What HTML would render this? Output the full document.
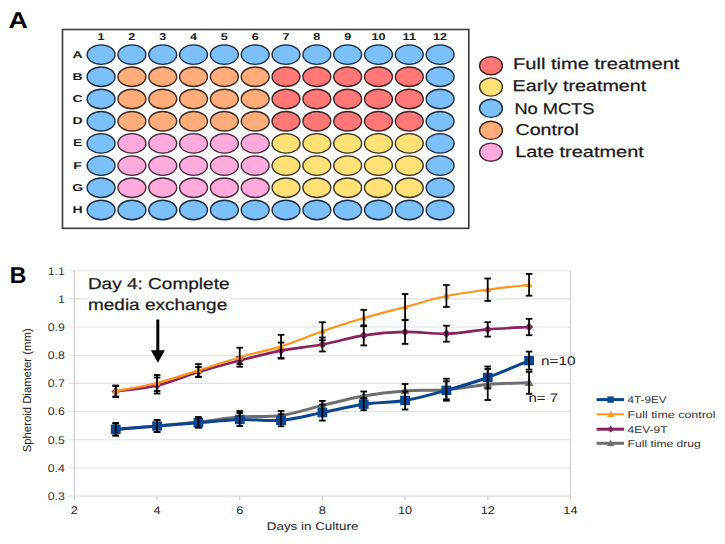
<!DOCTYPE html>
<html><head><meta charset="utf-8"><title>Figure</title>
<style>
html,body{margin:0;padding:0;background:#fff;}
body{width:725px;height:544px;overflow:hidden;font-family:"Liberation Sans", sans-serif;}
svg{display:block;}
text{text-rendering:geometricPrecision;}
</style></head>
<body>
<svg width="725" height="544" viewBox="0 0 725 544">
<rect x="0" y="0" width="725" height="544" fill="#fff"/>
<text x="8.6" y="27.9" font-family='"Liberation Sans", sans-serif' font-weight="bold" font-size="23" textLength="19.4" lengthAdjust="spacingAndGlyphs" fill="#000">A</text>
<rect x="62.5" y="29.5" width="406.3" height="198.8" fill="#fff" stroke="#3a3a3a" stroke-width="1.6"/>
<text x="101.1" y="40.4" text-anchor="middle" font-family='"Liberation Sans", sans-serif' font-weight="bold" font-size="9.9" fill="#1a1a1a" transform="translate(101.1 0) scale(1.28 1) translate(-101.1 0)">1</text>
<text x="131.9" y="40.4" text-anchor="middle" font-family='"Liberation Sans", sans-serif' font-weight="bold" font-size="9.9" fill="#1a1a1a" transform="translate(131.9 0) scale(1.28 1) translate(-131.9 0)">2</text>
<text x="162.7" y="40.4" text-anchor="middle" font-family='"Liberation Sans", sans-serif' font-weight="bold" font-size="9.9" fill="#1a1a1a" transform="translate(162.7 0) scale(1.28 1) translate(-162.7 0)">3</text>
<text x="193.6" y="40.4" text-anchor="middle" font-family='"Liberation Sans", sans-serif' font-weight="bold" font-size="9.9" fill="#1a1a1a" transform="translate(193.6 0) scale(1.28 1) translate(-193.6 0)">4</text>
<text x="224.4" y="40.4" text-anchor="middle" font-family='"Liberation Sans", sans-serif' font-weight="bold" font-size="9.9" fill="#1a1a1a" transform="translate(224.4 0) scale(1.28 1) translate(-224.4 0)">5</text>
<text x="255.2" y="40.4" text-anchor="middle" font-family='"Liberation Sans", sans-serif' font-weight="bold" font-size="9.9" fill="#1a1a1a" transform="translate(255.2 0) scale(1.28 1) translate(-255.2 0)">6</text>
<text x="286.0" y="40.4" text-anchor="middle" font-family='"Liberation Sans", sans-serif' font-weight="bold" font-size="9.9" fill="#1a1a1a" transform="translate(286.0 0) scale(1.28 1) translate(-286.0 0)">7</text>
<text x="316.8" y="40.4" text-anchor="middle" font-family='"Liberation Sans", sans-serif' font-weight="bold" font-size="9.9" fill="#1a1a1a" transform="translate(316.8 0) scale(1.28 1) translate(-316.8 0)">8</text>
<text x="347.7" y="40.4" text-anchor="middle" font-family='"Liberation Sans", sans-serif' font-weight="bold" font-size="9.9" fill="#1a1a1a" transform="translate(347.7 0) scale(1.28 1) translate(-347.7 0)">9</text>
<text x="378.5" y="40.4" text-anchor="middle" font-family='"Liberation Sans", sans-serif' font-weight="bold" font-size="9.9" fill="#1a1a1a" transform="translate(378.5 0) scale(1.28 1) translate(-378.5 0)">10</text>
<text x="409.3" y="40.4" text-anchor="middle" font-family='"Liberation Sans", sans-serif' font-weight="bold" font-size="9.9" fill="#1a1a1a" transform="translate(409.3 0) scale(1.28 1) translate(-409.3 0)">11</text>
<text x="440.1" y="40.4" text-anchor="middle" font-family='"Liberation Sans", sans-serif' font-weight="bold" font-size="9.9" fill="#1a1a1a" transform="translate(440.1 0) scale(1.28 1) translate(-440.1 0)">12</text>
<text x="77.6" y="57.6" text-anchor="middle" font-family='"Liberation Sans", sans-serif' font-weight="bold" font-size="10" fill="#1a1a1a" transform="translate(77.6 0) scale(1.4 1) translate(-77.6 0)">A</text>
<ellipse cx="101.10" cy="54.60" rx="13.95" ry="9.75" fill="#7cc0fb" stroke="#1c2c3c" stroke-width="1.4"/>
<ellipse cx="131.92" cy="54.60" rx="13.95" ry="9.75" fill="#7cc0fb" stroke="#1c2c3c" stroke-width="1.4"/>
<ellipse cx="162.74" cy="54.60" rx="13.95" ry="9.75" fill="#7cc0fb" stroke="#1c2c3c" stroke-width="1.4"/>
<ellipse cx="193.56" cy="54.60" rx="13.95" ry="9.75" fill="#7cc0fb" stroke="#1c2c3c" stroke-width="1.4"/>
<ellipse cx="224.38" cy="54.60" rx="13.95" ry="9.75" fill="#7cc0fb" stroke="#1c2c3c" stroke-width="1.4"/>
<ellipse cx="255.20" cy="54.60" rx="13.95" ry="9.75" fill="#7cc0fb" stroke="#1c2c3c" stroke-width="1.4"/>
<ellipse cx="286.02" cy="54.60" rx="13.95" ry="9.75" fill="#7cc0fb" stroke="#1c2c3c" stroke-width="1.4"/>
<ellipse cx="316.84" cy="54.60" rx="13.95" ry="9.75" fill="#7cc0fb" stroke="#1c2c3c" stroke-width="1.4"/>
<ellipse cx="347.66" cy="54.60" rx="13.95" ry="9.75" fill="#7cc0fb" stroke="#1c2c3c" stroke-width="1.4"/>
<ellipse cx="378.48" cy="54.60" rx="13.95" ry="9.75" fill="#7cc0fb" stroke="#1c2c3c" stroke-width="1.4"/>
<ellipse cx="409.30" cy="54.60" rx="13.95" ry="9.75" fill="#7cc0fb" stroke="#1c2c3c" stroke-width="1.4"/>
<ellipse cx="440.12" cy="54.60" rx="13.95" ry="9.75" fill="#7cc0fb" stroke="#1c2c3c" stroke-width="1.4"/>
<text x="77.6" y="79.8" text-anchor="middle" font-family='"Liberation Sans", sans-serif' font-weight="bold" font-size="10" fill="#1a1a1a" transform="translate(77.6 0) scale(1.4 1) translate(-77.6 0)">B</text>
<ellipse cx="101.10" cy="76.80" rx="13.95" ry="9.75" fill="#7cc0fb" stroke="#1c2c3c" stroke-width="1.4"/>
<ellipse cx="131.92" cy="76.80" rx="13.95" ry="9.75" fill="#ffac7b" stroke="#3c2a22" stroke-width="1.4"/>
<ellipse cx="162.74" cy="76.80" rx="13.95" ry="9.75" fill="#ffac7b" stroke="#3c2a22" stroke-width="1.4"/>
<ellipse cx="193.56" cy="76.80" rx="13.95" ry="9.75" fill="#ffac7b" stroke="#3c2a22" stroke-width="1.4"/>
<ellipse cx="224.38" cy="76.80" rx="13.95" ry="9.75" fill="#ffac7b" stroke="#3c2a22" stroke-width="1.4"/>
<ellipse cx="255.20" cy="76.80" rx="13.95" ry="9.75" fill="#ffac7b" stroke="#3c2a22" stroke-width="1.4"/>
<ellipse cx="286.02" cy="76.80" rx="13.95" ry="9.75" fill="#ff7777" stroke="#3c2424" stroke-width="1.4"/>
<ellipse cx="316.84" cy="76.80" rx="13.95" ry="9.75" fill="#ff7777" stroke="#3c2424" stroke-width="1.4"/>
<ellipse cx="347.66" cy="76.80" rx="13.95" ry="9.75" fill="#ff7777" stroke="#3c2424" stroke-width="1.4"/>
<ellipse cx="378.48" cy="76.80" rx="13.95" ry="9.75" fill="#ff7777" stroke="#3c2424" stroke-width="1.4"/>
<ellipse cx="409.30" cy="76.80" rx="13.95" ry="9.75" fill="#ff7777" stroke="#3c2424" stroke-width="1.4"/>
<ellipse cx="440.12" cy="76.80" rx="13.95" ry="9.75" fill="#7cc0fb" stroke="#1c2c3c" stroke-width="1.4"/>
<text x="77.6" y="102.0" text-anchor="middle" font-family='"Liberation Sans", sans-serif' font-weight="bold" font-size="10" fill="#1a1a1a" transform="translate(77.6 0) scale(1.4 1) translate(-77.6 0)">C</text>
<ellipse cx="101.10" cy="99.00" rx="13.95" ry="9.75" fill="#7cc0fb" stroke="#1c2c3c" stroke-width="1.4"/>
<ellipse cx="131.92" cy="99.00" rx="13.95" ry="9.75" fill="#ffac7b" stroke="#3c2a22" stroke-width="1.4"/>
<ellipse cx="162.74" cy="99.00" rx="13.95" ry="9.75" fill="#ffac7b" stroke="#3c2a22" stroke-width="1.4"/>
<ellipse cx="193.56" cy="99.00" rx="13.95" ry="9.75" fill="#ffac7b" stroke="#3c2a22" stroke-width="1.4"/>
<ellipse cx="224.38" cy="99.00" rx="13.95" ry="9.75" fill="#ffac7b" stroke="#3c2a22" stroke-width="1.4"/>
<ellipse cx="255.20" cy="99.00" rx="13.95" ry="9.75" fill="#ffac7b" stroke="#3c2a22" stroke-width="1.4"/>
<ellipse cx="286.02" cy="99.00" rx="13.95" ry="9.75" fill="#ff7777" stroke="#3c2424" stroke-width="1.4"/>
<ellipse cx="316.84" cy="99.00" rx="13.95" ry="9.75" fill="#ff7777" stroke="#3c2424" stroke-width="1.4"/>
<ellipse cx="347.66" cy="99.00" rx="13.95" ry="9.75" fill="#ff7777" stroke="#3c2424" stroke-width="1.4"/>
<ellipse cx="378.48" cy="99.00" rx="13.95" ry="9.75" fill="#ff7777" stroke="#3c2424" stroke-width="1.4"/>
<ellipse cx="409.30" cy="99.00" rx="13.95" ry="9.75" fill="#ff7777" stroke="#3c2424" stroke-width="1.4"/>
<ellipse cx="440.12" cy="99.00" rx="13.95" ry="9.75" fill="#7cc0fb" stroke="#1c2c3c" stroke-width="1.4"/>
<text x="77.6" y="124.2" text-anchor="middle" font-family='"Liberation Sans", sans-serif' font-weight="bold" font-size="10" fill="#1a1a1a" transform="translate(77.6 0) scale(1.4 1) translate(-77.6 0)">D</text>
<ellipse cx="101.10" cy="121.20" rx="13.95" ry="9.75" fill="#7cc0fb" stroke="#1c2c3c" stroke-width="1.4"/>
<ellipse cx="131.92" cy="121.20" rx="13.95" ry="9.75" fill="#ffac7b" stroke="#3c2a22" stroke-width="1.4"/>
<ellipse cx="162.74" cy="121.20" rx="13.95" ry="9.75" fill="#ffac7b" stroke="#3c2a22" stroke-width="1.4"/>
<ellipse cx="193.56" cy="121.20" rx="13.95" ry="9.75" fill="#ffac7b" stroke="#3c2a22" stroke-width="1.4"/>
<ellipse cx="224.38" cy="121.20" rx="13.95" ry="9.75" fill="#ffac7b" stroke="#3c2a22" stroke-width="1.4"/>
<ellipse cx="255.20" cy="121.20" rx="13.95" ry="9.75" fill="#ffac7b" stroke="#3c2a22" stroke-width="1.4"/>
<ellipse cx="286.02" cy="121.20" rx="13.95" ry="9.75" fill="#ff7777" stroke="#3c2424" stroke-width="1.4"/>
<ellipse cx="316.84" cy="121.20" rx="13.95" ry="9.75" fill="#ff7777" stroke="#3c2424" stroke-width="1.4"/>
<ellipse cx="347.66" cy="121.20" rx="13.95" ry="9.75" fill="#ff7777" stroke="#3c2424" stroke-width="1.4"/>
<ellipse cx="378.48" cy="121.20" rx="13.95" ry="9.75" fill="#ff7777" stroke="#3c2424" stroke-width="1.4"/>
<ellipse cx="409.30" cy="121.20" rx="13.95" ry="9.75" fill="#ff7777" stroke="#3c2424" stroke-width="1.4"/>
<ellipse cx="440.12" cy="121.20" rx="13.95" ry="9.75" fill="#7cc0fb" stroke="#1c2c3c" stroke-width="1.4"/>
<text x="77.6" y="146.4" text-anchor="middle" font-family='"Liberation Sans", sans-serif' font-weight="bold" font-size="10" fill="#1a1a1a" transform="translate(77.6 0) scale(1.4 1) translate(-77.6 0)">E</text>
<ellipse cx="101.10" cy="143.40" rx="13.95" ry="9.75" fill="#7cc0fb" stroke="#1c2c3c" stroke-width="1.4"/>
<ellipse cx="131.92" cy="143.40" rx="13.95" ry="9.75" fill="#ffaadc" stroke="#44283c" stroke-width="1.4"/>
<ellipse cx="162.74" cy="143.40" rx="13.95" ry="9.75" fill="#ffaadc" stroke="#44283c" stroke-width="1.4"/>
<ellipse cx="193.56" cy="143.40" rx="13.95" ry="9.75" fill="#ffaadc" stroke="#44283c" stroke-width="1.4"/>
<ellipse cx="224.38" cy="143.40" rx="13.95" ry="9.75" fill="#ffaadc" stroke="#44283c" stroke-width="1.4"/>
<ellipse cx="255.20" cy="143.40" rx="13.95" ry="9.75" fill="#ffaadc" stroke="#44283c" stroke-width="1.4"/>
<ellipse cx="286.02" cy="143.40" rx="13.95" ry="9.75" fill="#ffe175" stroke="#3a3422" stroke-width="1.4"/>
<ellipse cx="316.84" cy="143.40" rx="13.95" ry="9.75" fill="#ffe175" stroke="#3a3422" stroke-width="1.4"/>
<ellipse cx="347.66" cy="143.40" rx="13.95" ry="9.75" fill="#ffe175" stroke="#3a3422" stroke-width="1.4"/>
<ellipse cx="378.48" cy="143.40" rx="13.95" ry="9.75" fill="#ffe175" stroke="#3a3422" stroke-width="1.4"/>
<ellipse cx="409.30" cy="143.40" rx="13.95" ry="9.75" fill="#ffe175" stroke="#3a3422" stroke-width="1.4"/>
<ellipse cx="440.12" cy="143.40" rx="13.95" ry="9.75" fill="#7cc0fb" stroke="#1c2c3c" stroke-width="1.4"/>
<text x="77.6" y="168.6" text-anchor="middle" font-family='"Liberation Sans", sans-serif' font-weight="bold" font-size="10" fill="#1a1a1a" transform="translate(77.6 0) scale(1.4 1) translate(-77.6 0)">F</text>
<ellipse cx="101.10" cy="165.60" rx="13.95" ry="9.75" fill="#7cc0fb" stroke="#1c2c3c" stroke-width="1.4"/>
<ellipse cx="131.92" cy="165.60" rx="13.95" ry="9.75" fill="#ffaadc" stroke="#44283c" stroke-width="1.4"/>
<ellipse cx="162.74" cy="165.60" rx="13.95" ry="9.75" fill="#ffaadc" stroke="#44283c" stroke-width="1.4"/>
<ellipse cx="193.56" cy="165.60" rx="13.95" ry="9.75" fill="#ffaadc" stroke="#44283c" stroke-width="1.4"/>
<ellipse cx="224.38" cy="165.60" rx="13.95" ry="9.75" fill="#ffaadc" stroke="#44283c" stroke-width="1.4"/>
<ellipse cx="255.20" cy="165.60" rx="13.95" ry="9.75" fill="#ffaadc" stroke="#44283c" stroke-width="1.4"/>
<ellipse cx="286.02" cy="165.60" rx="13.95" ry="9.75" fill="#ffe175" stroke="#3a3422" stroke-width="1.4"/>
<ellipse cx="316.84" cy="165.60" rx="13.95" ry="9.75" fill="#ffe175" stroke="#3a3422" stroke-width="1.4"/>
<ellipse cx="347.66" cy="165.60" rx="13.95" ry="9.75" fill="#ffe175" stroke="#3a3422" stroke-width="1.4"/>
<ellipse cx="378.48" cy="165.60" rx="13.95" ry="9.75" fill="#ffe175" stroke="#3a3422" stroke-width="1.4"/>
<ellipse cx="409.30" cy="165.60" rx="13.95" ry="9.75" fill="#ffe175" stroke="#3a3422" stroke-width="1.4"/>
<ellipse cx="440.12" cy="165.60" rx="13.95" ry="9.75" fill="#7cc0fb" stroke="#1c2c3c" stroke-width="1.4"/>
<text x="77.6" y="190.8" text-anchor="middle" font-family='"Liberation Sans", sans-serif' font-weight="bold" font-size="10" fill="#1a1a1a" transform="translate(77.6 0) scale(1.4 1) translate(-77.6 0)">G</text>
<ellipse cx="101.10" cy="187.80" rx="13.95" ry="9.75" fill="#7cc0fb" stroke="#1c2c3c" stroke-width="1.4"/>
<ellipse cx="131.92" cy="187.80" rx="13.95" ry="9.75" fill="#ffaadc" stroke="#44283c" stroke-width="1.4"/>
<ellipse cx="162.74" cy="187.80" rx="13.95" ry="9.75" fill="#ffaadc" stroke="#44283c" stroke-width="1.4"/>
<ellipse cx="193.56" cy="187.80" rx="13.95" ry="9.75" fill="#ffaadc" stroke="#44283c" stroke-width="1.4"/>
<ellipse cx="224.38" cy="187.80" rx="13.95" ry="9.75" fill="#ffaadc" stroke="#44283c" stroke-width="1.4"/>
<ellipse cx="255.20" cy="187.80" rx="13.95" ry="9.75" fill="#ffaadc" stroke="#44283c" stroke-width="1.4"/>
<ellipse cx="286.02" cy="187.80" rx="13.95" ry="9.75" fill="#ffe175" stroke="#3a3422" stroke-width="1.4"/>
<ellipse cx="316.84" cy="187.80" rx="13.95" ry="9.75" fill="#ffe175" stroke="#3a3422" stroke-width="1.4"/>
<ellipse cx="347.66" cy="187.80" rx="13.95" ry="9.75" fill="#ffe175" stroke="#3a3422" stroke-width="1.4"/>
<ellipse cx="378.48" cy="187.80" rx="13.95" ry="9.75" fill="#ffe175" stroke="#3a3422" stroke-width="1.4"/>
<ellipse cx="409.30" cy="187.80" rx="13.95" ry="9.75" fill="#ffe175" stroke="#3a3422" stroke-width="1.4"/>
<ellipse cx="440.12" cy="187.80" rx="13.95" ry="9.75" fill="#7cc0fb" stroke="#1c2c3c" stroke-width="1.4"/>
<text x="77.6" y="213.0" text-anchor="middle" font-family='"Liberation Sans", sans-serif' font-weight="bold" font-size="10" fill="#1a1a1a" transform="translate(77.6 0) scale(1.4 1) translate(-77.6 0)">H</text>
<ellipse cx="101.10" cy="210.00" rx="13.95" ry="9.75" fill="#7cc0fb" stroke="#1c2c3c" stroke-width="1.4"/>
<ellipse cx="131.92" cy="210.00" rx="13.95" ry="9.75" fill="#7cc0fb" stroke="#1c2c3c" stroke-width="1.4"/>
<ellipse cx="162.74" cy="210.00" rx="13.95" ry="9.75" fill="#7cc0fb" stroke="#1c2c3c" stroke-width="1.4"/>
<ellipse cx="193.56" cy="210.00" rx="13.95" ry="9.75" fill="#7cc0fb" stroke="#1c2c3c" stroke-width="1.4"/>
<ellipse cx="224.38" cy="210.00" rx="13.95" ry="9.75" fill="#7cc0fb" stroke="#1c2c3c" stroke-width="1.4"/>
<ellipse cx="255.20" cy="210.00" rx="13.95" ry="9.75" fill="#7cc0fb" stroke="#1c2c3c" stroke-width="1.4"/>
<ellipse cx="286.02" cy="210.00" rx="13.95" ry="9.75" fill="#7cc0fb" stroke="#1c2c3c" stroke-width="1.4"/>
<ellipse cx="316.84" cy="210.00" rx="13.95" ry="9.75" fill="#7cc0fb" stroke="#1c2c3c" stroke-width="1.4"/>
<ellipse cx="347.66" cy="210.00" rx="13.95" ry="9.75" fill="#7cc0fb" stroke="#1c2c3c" stroke-width="1.4"/>
<ellipse cx="378.48" cy="210.00" rx="13.95" ry="9.75" fill="#7cc0fb" stroke="#1c2c3c" stroke-width="1.4"/>
<ellipse cx="409.30" cy="210.00" rx="13.95" ry="9.75" fill="#7cc0fb" stroke="#1c2c3c" stroke-width="1.4"/>
<ellipse cx="440.12" cy="210.00" rx="13.95" ry="9.75" fill="#7cc0fb" stroke="#1c2c3c" stroke-width="1.4"/>
<ellipse cx="491.0" cy="65.7" rx="11.4" ry="9.1" fill="#ff7777" stroke="#3c2424" stroke-width="1.4"/>
<text x="513.0" y="68.9" font-family='"Liberation Sans", sans-serif' font-size="15.6" fill="#1a1a1a" stroke="#1a1a1a" stroke-width="0.25" textLength="166.4" lengthAdjust="spacingAndGlyphs">Full time treatment</text>
<ellipse cx="491.0" cy="87.0" rx="11.4" ry="9.1" fill="#ffe175" stroke="#3a3422" stroke-width="1.4"/>
<text x="512.6" y="91.3" font-family='"Liberation Sans", sans-serif' font-size="15.6" fill="#1a1a1a" stroke="#1a1a1a" stroke-width="0.25" textLength="133.6" lengthAdjust="spacingAndGlyphs">Early treatment</text>
<ellipse cx="491.0" cy="108.3" rx="11.4" ry="9.1" fill="#7cc0fb" stroke="#1c2c3c" stroke-width="1.4"/>
<text x="514.4" y="113.7" font-family='"Liberation Sans", sans-serif' font-size="15.6" fill="#1a1a1a" stroke="#1a1a1a" stroke-width="0.25" textLength="80.0" lengthAdjust="spacingAndGlyphs">No MCTS</text>
<ellipse cx="491.0" cy="130.3" rx="11.4" ry="9.1" fill="#ffac7b" stroke="#3c2a22" stroke-width="1.4"/>
<text x="515.5" y="135.3" font-family='"Liberation Sans", sans-serif' font-size="15.6" fill="#1a1a1a" stroke="#1a1a1a" stroke-width="0.25" textLength="63.3" lengthAdjust="spacingAndGlyphs">Control</text>
<ellipse cx="491.0" cy="152.2" rx="11.4" ry="9.1" fill="#ffaadc" stroke="#44283c" stroke-width="1.4"/>
<text x="515.2" y="156.5" font-family='"Liberation Sans", sans-serif' font-size="15.6" fill="#1a1a1a" stroke="#1a1a1a" stroke-width="0.25" textLength="128.6" lengthAdjust="spacingAndGlyphs">Late treatment</text>
<text x="9.8" y="282.9" font-family='"Liberation Sans", sans-serif' font-weight="bold" font-size="23" textLength="16.6" lengthAdjust="spacingAndGlyphs" fill="#000">B</text>
<line x1="68.6" y1="496.10" x2="570.4" y2="496.10" stroke="#e0e0e0" stroke-width="1.1"/>
<text x="64.8" y="500.00" text-anchor="end" font-family='"Liberation Sans", sans-serif' font-size="11" fill="#333" transform="translate(64.8 0) scale(1.12 1) translate(-64.8 0)">0.3</text>
<line x1="68.6" y1="467.93" x2="570.4" y2="467.93" stroke="#e0e0e0" stroke-width="1.1"/>
<text x="64.8" y="471.82" text-anchor="end" font-family='"Liberation Sans", sans-serif' font-size="11" fill="#333" transform="translate(64.8 0) scale(1.12 1) translate(-64.8 0)">0.4</text>
<line x1="68.6" y1="439.75" x2="570.4" y2="439.75" stroke="#e0e0e0" stroke-width="1.1"/>
<text x="64.8" y="443.65" text-anchor="end" font-family='"Liberation Sans", sans-serif' font-size="11" fill="#333" transform="translate(64.8 0) scale(1.12 1) translate(-64.8 0)">0.5</text>
<line x1="68.6" y1="411.57" x2="570.4" y2="411.57" stroke="#e0e0e0" stroke-width="1.1"/>
<text x="64.8" y="415.47" text-anchor="end" font-family='"Liberation Sans", sans-serif' font-size="11" fill="#333" transform="translate(64.8 0) scale(1.12 1) translate(-64.8 0)">0.6</text>
<line x1="68.6" y1="383.40" x2="570.4" y2="383.40" stroke="#e0e0e0" stroke-width="1.1"/>
<text x="64.8" y="387.30" text-anchor="end" font-family='"Liberation Sans", sans-serif' font-size="11" fill="#333" transform="translate(64.8 0) scale(1.12 1) translate(-64.8 0)">0.7</text>
<line x1="68.6" y1="355.23" x2="570.4" y2="355.23" stroke="#e0e0e0" stroke-width="1.1"/>
<text x="64.8" y="359.12" text-anchor="end" font-family='"Liberation Sans", sans-serif' font-size="11" fill="#333" transform="translate(64.8 0) scale(1.12 1) translate(-64.8 0)">0.8</text>
<line x1="68.6" y1="327.05" x2="570.4" y2="327.05" stroke="#e0e0e0" stroke-width="1.1"/>
<text x="64.8" y="330.95" text-anchor="end" font-family='"Liberation Sans", sans-serif' font-size="11" fill="#333" transform="translate(64.8 0) scale(1.12 1) translate(-64.8 0)">0.9</text>
<line x1="68.6" y1="298.88" x2="570.4" y2="298.88" stroke="#e0e0e0" stroke-width="1.1"/>
<text x="64.8" y="302.77" text-anchor="end" font-family='"Liberation Sans", sans-serif' font-size="11" fill="#333" transform="translate(64.8 0) scale(1.12 1) translate(-64.8 0)">1</text>
<line x1="68.6" y1="270.70" x2="570.4" y2="270.70" stroke="#e0e0e0" stroke-width="1.1"/>
<text x="64.8" y="274.60" text-anchor="end" font-family='"Liberation Sans", sans-serif' font-size="11" fill="#333" transform="translate(64.8 0) scale(1.12 1) translate(-64.8 0)">1.1</text>
<line x1="74.4" y1="270.7" x2="74.4" y2="500.1" stroke="#cfcfcf" stroke-width="1.2"/>
<line x1="570.4" y1="270.7" x2="570.4" y2="500.1" stroke="#d8d8d8" stroke-width="1.2"/>
<line x1="74.40" y1="496.1" x2="74.40" y2="500.1" stroke="#cfcfcf" stroke-width="1.2"/>
<text x="74.40" y="514.1" text-anchor="middle" font-family='"Liberation Sans", sans-serif' font-size="11" fill="#222" transform="translate(74.40 0) scale(1.15 1) translate(-74.40 0)">2</text>
<line x1="157.07" y1="496.1" x2="157.07" y2="500.1" stroke="#cfcfcf" stroke-width="1.2"/>
<text x="157.07" y="514.1" text-anchor="middle" font-family='"Liberation Sans", sans-serif' font-size="11" fill="#222" transform="translate(157.07 0) scale(1.15 1) translate(-157.07 0)">4</text>
<line x1="239.73" y1="496.1" x2="239.73" y2="500.1" stroke="#cfcfcf" stroke-width="1.2"/>
<text x="239.73" y="514.1" text-anchor="middle" font-family='"Liberation Sans", sans-serif' font-size="11" fill="#222" transform="translate(239.73 0) scale(1.15 1) translate(-239.73 0)">6</text>
<line x1="322.40" y1="496.1" x2="322.40" y2="500.1" stroke="#cfcfcf" stroke-width="1.2"/>
<text x="322.40" y="514.1" text-anchor="middle" font-family='"Liberation Sans", sans-serif' font-size="11" fill="#222" transform="translate(322.40 0) scale(1.15 1) translate(-322.40 0)">8</text>
<line x1="405.07" y1="496.1" x2="405.07" y2="500.1" stroke="#cfcfcf" stroke-width="1.2"/>
<text x="405.07" y="514.1" text-anchor="middle" font-family='"Liberation Sans", sans-serif' font-size="11" fill="#222" transform="translate(405.07 0) scale(1.15 1) translate(-405.07 0)">10</text>
<line x1="487.73" y1="496.1" x2="487.73" y2="500.1" stroke="#cfcfcf" stroke-width="1.2"/>
<text x="487.73" y="514.1" text-anchor="middle" font-family='"Liberation Sans", sans-serif' font-size="11" fill="#222" transform="translate(487.73 0) scale(1.15 1) translate(-487.73 0)">12</text>
<line x1="570.40" y1="496.1" x2="570.40" y2="500.1" stroke="#cfcfcf" stroke-width="1.2"/>
<text x="570.40" y="514.1" text-anchor="middle" font-family='"Liberation Sans", sans-serif' font-size="11" fill="#222" transform="translate(570.40 0) scale(1.15 1) translate(-570.40 0)">14</text>
<text x="266.8" y="529.6" font-family='"Liberation Sans", sans-serif' font-size="11.2" fill="#222" textLength="91.6" lengthAdjust="spacingAndGlyphs">Days in Culture</text>
<text transform="translate(30.9 452.3) rotate(-90)" x="0" y="0" font-family='"Liberation Sans", sans-serif' font-size="11.6" fill="#222" textLength="124" lengthAdjust="spacingAndGlyphs">Spheroid Diameter (mm)</text>
<rect x="88" y="274" width="143" height="40" fill="#fff"/>
<text x="87.9" y="288.7" font-family='"Liberation Sans", sans-serif' font-size="15.8" fill="#1a1a1a" stroke="#1a1a1a" stroke-width="0.25" textLength="141.6" lengthAdjust="spacingAndGlyphs">Day 4: Complete</text>
<text x="88.0" y="309.7" font-family='"Liberation Sans", sans-serif' font-size="15.8" fill="#1a1a1a" stroke="#1a1a1a" stroke-width="0.25" textLength="139.2" lengthAdjust="spacingAndGlyphs">media exchange</text>
<line x1="157.8" y1="319.5" x2="157.8" y2="352" stroke="#000" stroke-width="3"/>
<polygon points="150.9,350.2 164.9,350.2 157.9,362.8" fill="#000"/>
<path d="M115.73,429.50 C122.62,428.92 143.29,427.25 157.07,426.00 C170.84,424.75 184.62,423.50 198.40,422.00 C212.18,420.50 225.96,418.08 239.73,417.00 C253.51,415.92 267.29,417.43 281.07,415.50 C294.84,413.57 308.62,408.65 322.40,405.40 C336.18,402.15 349.96,398.40 363.73,396.00 C377.51,393.60 391.29,392.05 405.07,391.00 C418.84,389.95 432.62,390.78 446.40,389.70 C460.18,388.62 473.96,385.65 487.73,384.50 C501.51,383.35 522.18,383.08 529.07,382.80" fill="none" stroke="#6e6e6e" stroke-width="3" stroke-linejoin="round"/>
<polygon points="111.23,432.80 120.23,432.80 115.73,425.00" fill="#6e6e6e"/>
<polygon points="152.57,429.30 161.57,429.30 157.07,421.50" fill="#6e6e6e"/>
<polygon points="193.90,425.30 202.90,425.30 198.40,417.50" fill="#6e6e6e"/>
<polygon points="235.23,420.30 244.23,420.30 239.73,412.50" fill="#6e6e6e"/>
<polygon points="276.57,418.80 285.57,418.80 281.07,411.00" fill="#6e6e6e"/>
<polygon points="317.90,408.70 326.90,408.70 322.40,400.90" fill="#6e6e6e"/>
<polygon points="359.23,399.30 368.23,399.30 363.73,391.50" fill="#6e6e6e"/>
<polygon points="400.57,394.30 409.57,394.30 405.07,386.50" fill="#6e6e6e"/>
<polygon points="441.90,393.00 450.90,393.00 446.40,385.20" fill="#6e6e6e"/>
<polygon points="483.23,387.80 492.23,387.80 487.73,380.00" fill="#6e6e6e"/>
<polygon points="524.57,386.10 533.57,386.10 529.07,378.30" fill="#6e6e6e"/>
<line x1="115.73" y1="423.50" x2="115.73" y2="435.50" stroke="#000" stroke-width="1.8"/>
<line x1="112.43" y1="423.50" x2="119.03" y2="423.50" stroke="#000" stroke-width="1.8"/>
<line x1="112.43" y1="435.50" x2="119.03" y2="435.50" stroke="#000" stroke-width="1.8"/>
<line x1="157.07" y1="420.00" x2="157.07" y2="432.00" stroke="#000" stroke-width="1.8"/>
<line x1="153.77" y1="420.00" x2="160.37" y2="420.00" stroke="#000" stroke-width="1.8"/>
<line x1="153.77" y1="432.00" x2="160.37" y2="432.00" stroke="#000" stroke-width="1.8"/>
<line x1="198.40" y1="417.00" x2="198.40" y2="427.00" stroke="#000" stroke-width="1.8"/>
<line x1="195.10" y1="417.00" x2="201.70" y2="417.00" stroke="#000" stroke-width="1.8"/>
<line x1="195.10" y1="427.00" x2="201.70" y2="427.00" stroke="#000" stroke-width="1.8"/>
<line x1="239.73" y1="411.00" x2="239.73" y2="423.00" stroke="#000" stroke-width="1.8"/>
<line x1="236.43" y1="411.00" x2="243.03" y2="411.00" stroke="#000" stroke-width="1.8"/>
<line x1="236.43" y1="423.00" x2="243.03" y2="423.00" stroke="#000" stroke-width="1.8"/>
<line x1="281.07" y1="411.00" x2="281.07" y2="420.00" stroke="#000" stroke-width="1.8"/>
<line x1="277.77" y1="411.00" x2="284.37" y2="411.00" stroke="#000" stroke-width="1.8"/>
<line x1="277.77" y1="420.00" x2="284.37" y2="420.00" stroke="#000" stroke-width="1.8"/>
<line x1="322.40" y1="400.90" x2="322.40" y2="409.90" stroke="#000" stroke-width="1.8"/>
<line x1="319.10" y1="400.90" x2="325.70" y2="400.90" stroke="#000" stroke-width="1.8"/>
<line x1="319.10" y1="409.90" x2="325.70" y2="409.90" stroke="#000" stroke-width="1.8"/>
<line x1="363.73" y1="391.50" x2="363.73" y2="400.50" stroke="#000" stroke-width="1.8"/>
<line x1="360.43" y1="391.50" x2="367.03" y2="391.50" stroke="#000" stroke-width="1.8"/>
<line x1="360.43" y1="400.50" x2="367.03" y2="400.50" stroke="#000" stroke-width="1.8"/>
<line x1="405.07" y1="384.00" x2="405.07" y2="398.00" stroke="#000" stroke-width="1.8"/>
<line x1="401.77" y1="384.00" x2="408.37" y2="384.00" stroke="#000" stroke-width="1.8"/>
<line x1="401.77" y1="398.00" x2="408.37" y2="398.00" stroke="#000" stroke-width="1.8"/>
<line x1="446.40" y1="378.70" x2="446.40" y2="400.70" stroke="#000" stroke-width="1.8"/>
<line x1="443.10" y1="378.70" x2="449.70" y2="378.70" stroke="#000" stroke-width="1.8"/>
<line x1="443.10" y1="400.70" x2="449.70" y2="400.70" stroke="#000" stroke-width="1.8"/>
<line x1="487.73" y1="369.00" x2="487.73" y2="400.00" stroke="#000" stroke-width="1.8"/>
<line x1="484.43" y1="369.00" x2="491.03" y2="369.00" stroke="#000" stroke-width="1.8"/>
<line x1="484.43" y1="400.00" x2="491.03" y2="400.00" stroke="#000" stroke-width="1.8"/>
<line x1="529.07" y1="371.80" x2="529.07" y2="393.80" stroke="#000" stroke-width="1.8"/>
<line x1="525.77" y1="371.80" x2="532.37" y2="371.80" stroke="#000" stroke-width="1.8"/>
<line x1="525.77" y1="393.80" x2="532.37" y2="393.80" stroke="#000" stroke-width="1.8"/>
<path d="M115.73,391.50 C122.62,390.50 143.29,388.75 157.07,385.50 C170.84,382.25 184.62,376.17 198.40,372.00 C212.18,367.83 225.96,364.07 239.73,360.50 C253.51,356.93 267.29,353.27 281.07,350.60 C294.84,347.93 308.62,347.03 322.40,344.50 C336.18,341.97 349.96,337.50 363.73,335.40 C377.51,333.30 391.29,332.18 405.07,331.90 C418.84,331.62 432.62,334.12 446.40,333.70 C460.18,333.28 473.96,330.52 487.73,329.40 C501.51,328.28 522.18,327.40 529.07,327.00" fill="none" stroke="#8a225e" stroke-width="2.6" stroke-linejoin="round"/>
<polygon points="111.53,391.50 115.73,387.30 119.93,391.50 115.73,395.70" fill="#8a225e"/>
<polygon points="152.87,385.50 157.07,381.30 161.27,385.50 157.07,389.70" fill="#8a225e"/>
<polygon points="194.20,372.00 198.40,367.80 202.60,372.00 198.40,376.20" fill="#8a225e"/>
<polygon points="235.53,360.50 239.73,356.30 243.93,360.50 239.73,364.70" fill="#8a225e"/>
<polygon points="276.87,350.60 281.07,346.40 285.27,350.60 281.07,354.80" fill="#8a225e"/>
<polygon points="318.20,344.50 322.40,340.30 326.60,344.50 322.40,348.70" fill="#8a225e"/>
<polygon points="359.53,335.40 363.73,331.20 367.93,335.40 363.73,339.60" fill="#8a225e"/>
<polygon points="400.87,331.90 405.07,327.70 409.27,331.90 405.07,336.10" fill="#8a225e"/>
<polygon points="442.20,333.70 446.40,329.50 450.60,333.70 446.40,337.90" fill="#8a225e"/>
<polygon points="483.53,329.40 487.73,325.20 491.93,329.40 487.73,333.60" fill="#8a225e"/>
<polygon points="524.87,327.00 529.07,322.80 533.27,327.00 529.07,331.20" fill="#8a225e"/>
<line x1="115.73" y1="386.00" x2="115.73" y2="397.00" stroke="#000" stroke-width="1.8"/>
<line x1="112.43" y1="386.00" x2="119.03" y2="386.00" stroke="#000" stroke-width="1.8"/>
<line x1="112.43" y1="397.00" x2="119.03" y2="397.00" stroke="#000" stroke-width="1.8"/>
<line x1="157.07" y1="377.50" x2="157.07" y2="393.50" stroke="#000" stroke-width="1.8"/>
<line x1="153.77" y1="377.50" x2="160.37" y2="377.50" stroke="#000" stroke-width="1.8"/>
<line x1="153.77" y1="393.50" x2="160.37" y2="393.50" stroke="#000" stroke-width="1.8"/>
<line x1="198.40" y1="367.00" x2="198.40" y2="377.00" stroke="#000" stroke-width="1.8"/>
<line x1="195.10" y1="367.00" x2="201.70" y2="367.00" stroke="#000" stroke-width="1.8"/>
<line x1="195.10" y1="377.00" x2="201.70" y2="377.00" stroke="#000" stroke-width="1.8"/>
<line x1="239.73" y1="356.90" x2="239.73" y2="364.10" stroke="#000" stroke-width="1.8"/>
<line x1="236.43" y1="356.90" x2="243.03" y2="356.90" stroke="#000" stroke-width="1.8"/>
<line x1="236.43" y1="364.10" x2="243.03" y2="364.10" stroke="#000" stroke-width="1.8"/>
<line x1="281.07" y1="342.60" x2="281.07" y2="358.60" stroke="#000" stroke-width="1.8"/>
<line x1="277.77" y1="342.60" x2="284.37" y2="342.60" stroke="#000" stroke-width="1.8"/>
<line x1="277.77" y1="358.60" x2="284.37" y2="358.60" stroke="#000" stroke-width="1.8"/>
<line x1="322.40" y1="337.50" x2="322.40" y2="351.50" stroke="#000" stroke-width="1.8"/>
<line x1="319.10" y1="337.50" x2="325.70" y2="337.50" stroke="#000" stroke-width="1.8"/>
<line x1="319.10" y1="351.50" x2="325.70" y2="351.50" stroke="#000" stroke-width="1.8"/>
<line x1="363.73" y1="325.40" x2="363.73" y2="345.40" stroke="#000" stroke-width="1.8"/>
<line x1="360.43" y1="325.40" x2="367.03" y2="325.40" stroke="#000" stroke-width="1.8"/>
<line x1="360.43" y1="345.40" x2="367.03" y2="345.40" stroke="#000" stroke-width="1.8"/>
<line x1="405.07" y1="319.90" x2="405.07" y2="343.90" stroke="#000" stroke-width="1.8"/>
<line x1="401.77" y1="319.90" x2="408.37" y2="319.90" stroke="#000" stroke-width="1.8"/>
<line x1="401.77" y1="343.90" x2="408.37" y2="343.90" stroke="#000" stroke-width="1.8"/>
<line x1="446.40" y1="325.70" x2="446.40" y2="341.70" stroke="#000" stroke-width="1.8"/>
<line x1="443.10" y1="325.70" x2="449.70" y2="325.70" stroke="#000" stroke-width="1.8"/>
<line x1="443.10" y1="341.70" x2="449.70" y2="341.70" stroke="#000" stroke-width="1.8"/>
<line x1="487.73" y1="322.20" x2="487.73" y2="336.60" stroke="#000" stroke-width="1.8"/>
<line x1="484.43" y1="322.20" x2="491.03" y2="322.20" stroke="#000" stroke-width="1.8"/>
<line x1="484.43" y1="336.60" x2="491.03" y2="336.60" stroke="#000" stroke-width="1.8"/>
<line x1="529.07" y1="318.80" x2="529.07" y2="335.20" stroke="#000" stroke-width="1.8"/>
<line x1="525.77" y1="318.80" x2="532.37" y2="318.80" stroke="#000" stroke-width="1.8"/>
<line x1="525.77" y1="335.20" x2="532.37" y2="335.20" stroke="#000" stroke-width="1.8"/>
<path d="M115.73,391.00 C122.62,389.67 143.29,386.43 157.07,383.00 C170.84,379.57 184.62,374.70 198.40,370.40 C212.18,366.10 225.96,361.20 239.73,357.20 C253.51,353.20 267.29,350.72 281.07,346.40 C294.84,342.08 308.62,336.03 322.40,331.30 C336.18,326.57 349.96,322.05 363.73,318.00 C377.51,313.95 391.29,310.67 405.07,307.00 C418.84,303.33 432.62,298.88 446.40,296.00 C460.18,293.12 473.96,291.57 487.73,289.70 C501.51,287.83 522.18,285.62 529.07,284.80" fill="none" stroke="#fb951c" stroke-width="2.2" stroke-linejoin="round"/>
<polygon points="112.23,393.50 119.23,393.50 115.73,387.50" fill="#fb951c"/>
<polygon points="153.57,385.50 160.57,385.50 157.07,379.50" fill="#fb951c"/>
<polygon points="194.90,372.90 201.90,372.90 198.40,366.90" fill="#fb951c"/>
<polygon points="236.23,359.70 243.23,359.70 239.73,353.70" fill="#fb951c"/>
<polygon points="277.57,348.90 284.57,348.90 281.07,342.90" fill="#fb951c"/>
<polygon points="318.90,333.80 325.90,333.80 322.40,327.80" fill="#fb951c"/>
<polygon points="360.23,320.50 367.23,320.50 363.73,314.50" fill="#fb951c"/>
<polygon points="401.57,309.50 408.57,309.50 405.07,303.50" fill="#fb951c"/>
<polygon points="442.90,298.50 449.90,298.50 446.40,292.50" fill="#fb951c"/>
<polygon points="484.23,292.20 491.23,292.20 487.73,286.20" fill="#fb951c"/>
<polygon points="525.57,287.30 532.57,287.30 529.07,281.30" fill="#fb951c"/>
<line x1="115.73" y1="385.50" x2="115.73" y2="396.50" stroke="#000" stroke-width="1.8"/>
<line x1="112.43" y1="385.50" x2="119.03" y2="385.50" stroke="#000" stroke-width="1.8"/>
<line x1="112.43" y1="396.50" x2="119.03" y2="396.50" stroke="#000" stroke-width="1.8"/>
<line x1="157.07" y1="375.00" x2="157.07" y2="391.00" stroke="#000" stroke-width="1.8"/>
<line x1="153.77" y1="375.00" x2="160.37" y2="375.00" stroke="#000" stroke-width="1.8"/>
<line x1="153.77" y1="391.00" x2="160.37" y2="391.00" stroke="#000" stroke-width="1.8"/>
<line x1="198.40" y1="364.10" x2="198.40" y2="376.70" stroke="#000" stroke-width="1.8"/>
<line x1="195.10" y1="364.10" x2="201.70" y2="364.10" stroke="#000" stroke-width="1.8"/>
<line x1="195.10" y1="376.70" x2="201.70" y2="376.70" stroke="#000" stroke-width="1.8"/>
<line x1="239.73" y1="347.70" x2="239.73" y2="366.70" stroke="#000" stroke-width="1.8"/>
<line x1="236.43" y1="347.70" x2="243.03" y2="347.70" stroke="#000" stroke-width="1.8"/>
<line x1="236.43" y1="366.70" x2="243.03" y2="366.70" stroke="#000" stroke-width="1.8"/>
<line x1="281.07" y1="334.80" x2="281.07" y2="358.00" stroke="#000" stroke-width="1.8"/>
<line x1="277.77" y1="334.80" x2="284.37" y2="334.80" stroke="#000" stroke-width="1.8"/>
<line x1="277.77" y1="358.00" x2="284.37" y2="358.00" stroke="#000" stroke-width="1.8"/>
<line x1="322.40" y1="322.30" x2="322.40" y2="340.30" stroke="#000" stroke-width="1.8"/>
<line x1="319.10" y1="322.30" x2="325.70" y2="322.30" stroke="#000" stroke-width="1.8"/>
<line x1="319.10" y1="340.30" x2="325.70" y2="340.30" stroke="#000" stroke-width="1.8"/>
<line x1="363.73" y1="309.80" x2="363.73" y2="326.20" stroke="#000" stroke-width="1.8"/>
<line x1="360.43" y1="309.80" x2="367.03" y2="309.80" stroke="#000" stroke-width="1.8"/>
<line x1="360.43" y1="326.20" x2="367.03" y2="326.20" stroke="#000" stroke-width="1.8"/>
<line x1="405.07" y1="294.00" x2="405.07" y2="320.00" stroke="#000" stroke-width="1.8"/>
<line x1="401.77" y1="294.00" x2="408.37" y2="294.00" stroke="#000" stroke-width="1.8"/>
<line x1="401.77" y1="320.00" x2="408.37" y2="320.00" stroke="#000" stroke-width="1.8"/>
<line x1="446.40" y1="285.10" x2="446.40" y2="306.90" stroke="#000" stroke-width="1.8"/>
<line x1="443.10" y1="285.10" x2="449.70" y2="285.10" stroke="#000" stroke-width="1.8"/>
<line x1="443.10" y1="306.90" x2="449.70" y2="306.90" stroke="#000" stroke-width="1.8"/>
<line x1="487.73" y1="278.50" x2="487.73" y2="300.90" stroke="#000" stroke-width="1.8"/>
<line x1="484.43" y1="278.50" x2="491.03" y2="278.50" stroke="#000" stroke-width="1.8"/>
<line x1="484.43" y1="300.90" x2="491.03" y2="300.90" stroke="#000" stroke-width="1.8"/>
<line x1="529.07" y1="273.90" x2="529.07" y2="295.70" stroke="#000" stroke-width="1.8"/>
<line x1="525.77" y1="273.90" x2="532.37" y2="273.90" stroke="#000" stroke-width="1.8"/>
<line x1="525.77" y1="295.70" x2="532.37" y2="295.70" stroke="#000" stroke-width="1.8"/>
<path d="M115.73,429.30 C122.62,428.75 143.29,427.08 157.07,426.00 C170.84,424.92 184.62,423.88 198.40,422.80 C212.18,421.72 225.96,419.92 239.73,419.50 C253.51,419.08 267.29,421.45 281.07,420.30 C294.84,419.15 308.62,415.28 322.40,412.60 C336.18,409.92 349.96,406.22 363.73,404.20 C377.51,402.18 391.29,402.82 405.07,400.50 C418.84,398.18 432.62,394.13 446.40,390.30 C460.18,386.47 473.96,382.45 487.73,377.50 C501.51,372.55 522.18,363.42 529.07,360.60" fill="none" stroke="#0b4590" stroke-width="3" stroke-linejoin="round"/>
<rect x="110.83" y="424.60" width="9.8" height="9.4" fill="#0b4590"/>
<rect x="152.17" y="421.30" width="9.8" height="9.4" fill="#0b4590"/>
<rect x="193.50" y="418.10" width="9.8" height="9.4" fill="#0b4590"/>
<rect x="234.83" y="414.80" width="9.8" height="9.4" fill="#0b4590"/>
<rect x="276.17" y="415.60" width="9.8" height="9.4" fill="#0b4590"/>
<rect x="317.50" y="407.90" width="9.8" height="9.4" fill="#0b4590"/>
<rect x="358.83" y="399.50" width="9.8" height="9.4" fill="#0b4590"/>
<rect x="400.17" y="395.80" width="9.8" height="9.4" fill="#0b4590"/>
<rect x="441.50" y="385.60" width="9.8" height="9.4" fill="#0b4590"/>
<rect x="482.83" y="372.80" width="9.8" height="9.4" fill="#0b4590"/>
<rect x="524.17" y="355.90" width="9.8" height="9.4" fill="#0b4590"/>
<line x1="115.73" y1="423.00" x2="115.73" y2="435.60" stroke="#000" stroke-width="1.8"/>
<line x1="112.43" y1="423.00" x2="119.03" y2="423.00" stroke="#000" stroke-width="1.8"/>
<line x1="112.43" y1="435.60" x2="119.03" y2="435.60" stroke="#000" stroke-width="1.8"/>
<line x1="157.07" y1="420.00" x2="157.07" y2="432.00" stroke="#000" stroke-width="1.8"/>
<line x1="153.77" y1="420.00" x2="160.37" y2="420.00" stroke="#000" stroke-width="1.8"/>
<line x1="153.77" y1="432.00" x2="160.37" y2="432.00" stroke="#000" stroke-width="1.8"/>
<line x1="198.40" y1="417.80" x2="198.40" y2="427.80" stroke="#000" stroke-width="1.8"/>
<line x1="195.10" y1="417.80" x2="201.70" y2="417.80" stroke="#000" stroke-width="1.8"/>
<line x1="195.10" y1="427.80" x2="201.70" y2="427.80" stroke="#000" stroke-width="1.8"/>
<line x1="239.73" y1="413.00" x2="239.73" y2="426.00" stroke="#000" stroke-width="1.8"/>
<line x1="236.43" y1="413.00" x2="243.03" y2="413.00" stroke="#000" stroke-width="1.8"/>
<line x1="236.43" y1="426.00" x2="243.03" y2="426.00" stroke="#000" stroke-width="1.8"/>
<line x1="281.07" y1="414.30" x2="281.07" y2="426.30" stroke="#000" stroke-width="1.8"/>
<line x1="277.77" y1="414.30" x2="284.37" y2="414.30" stroke="#000" stroke-width="1.8"/>
<line x1="277.77" y1="426.30" x2="284.37" y2="426.30" stroke="#000" stroke-width="1.8"/>
<line x1="322.40" y1="404.60" x2="322.40" y2="420.60" stroke="#000" stroke-width="1.8"/>
<line x1="319.10" y1="404.60" x2="325.70" y2="404.60" stroke="#000" stroke-width="1.8"/>
<line x1="319.10" y1="420.60" x2="325.70" y2="420.60" stroke="#000" stroke-width="1.8"/>
<line x1="363.73" y1="398.20" x2="363.73" y2="410.20" stroke="#000" stroke-width="1.8"/>
<line x1="360.43" y1="398.20" x2="367.03" y2="398.20" stroke="#000" stroke-width="1.8"/>
<line x1="360.43" y1="410.20" x2="367.03" y2="410.20" stroke="#000" stroke-width="1.8"/>
<line x1="405.07" y1="391.50" x2="405.07" y2="409.50" stroke="#000" stroke-width="1.8"/>
<line x1="401.77" y1="391.50" x2="408.37" y2="391.50" stroke="#000" stroke-width="1.8"/>
<line x1="401.77" y1="409.50" x2="408.37" y2="409.50" stroke="#000" stroke-width="1.8"/>
<line x1="446.40" y1="381.30" x2="446.40" y2="399.30" stroke="#000" stroke-width="1.8"/>
<line x1="443.10" y1="381.30" x2="449.70" y2="381.30" stroke="#000" stroke-width="1.8"/>
<line x1="443.10" y1="399.30" x2="449.70" y2="399.30" stroke="#000" stroke-width="1.8"/>
<line x1="487.73" y1="366.50" x2="487.73" y2="388.50" stroke="#000" stroke-width="1.8"/>
<line x1="484.43" y1="366.50" x2="491.03" y2="366.50" stroke="#000" stroke-width="1.8"/>
<line x1="484.43" y1="388.50" x2="491.03" y2="388.50" stroke="#000" stroke-width="1.8"/>
<line x1="529.07" y1="351.60" x2="529.07" y2="369.60" stroke="#000" stroke-width="1.8"/>
<line x1="525.77" y1="351.60" x2="532.37" y2="351.60" stroke="#000" stroke-width="1.8"/>
<line x1="525.77" y1="369.60" x2="532.37" y2="369.60" stroke="#000" stroke-width="1.8"/>
<text x="541.0" y="365.0" font-family='"Liberation Sans", sans-serif' font-size="12.4" fill="#1a1a1a" textLength="34.5" lengthAdjust="spacingAndGlyphs">n=10</text>
<text x="528.4" y="402.3" font-family='"Liberation Sans", sans-serif' font-size="12.4" fill="#1a1a1a" textLength="29.6" lengthAdjust="spacingAndGlyphs">n= 7</text>
<line x1="596.6" y1="399.6" x2="624" y2="399.6" stroke="#0b4590" stroke-width="3"/>
<rect x="607.4" y="396.40000000000003" width="6.4" height="6.4" fill="#0b4590"/>
<text x="627.6" y="403.0" font-family='"Liberation Sans", sans-serif' font-size="9.8" fill="#333" textLength="39.0" lengthAdjust="spacingAndGlyphs">4T-9EV</text>
<line x1="596.6" y1="414.3" x2="624" y2="414.3" stroke="#fb951c" stroke-width="2"/>
<polygon points="607.0,416.90000000000003 614.2,416.90000000000003 610.6,410.7" fill="#fb951c"/>
<text x="627.6" y="417.7" font-family='"Liberation Sans", sans-serif' font-size="9.8" fill="#333" textLength="88.0" lengthAdjust="spacingAndGlyphs">Full time control</text>
<line x1="596.6" y1="429.2" x2="624" y2="429.2" stroke="#8a225e" stroke-width="3"/>
<polygon points="607.2,429.2 610.6,425.8 614.0,429.2 610.6,432.59999999999997" fill="#8a225e"/>
<text x="627.6" y="432.6" font-family='"Liberation Sans", sans-serif' font-size="9.8" fill="#333" textLength="40.0" lengthAdjust="spacingAndGlyphs">4EV-9T</text>
<line x1="596.6" y1="443.3" x2="624" y2="443.3" stroke="#6e6e6e" stroke-width="3"/>
<polygon points="607.0,445.90000000000003 614.2,445.90000000000003 610.6,439.7" fill="#6e6e6e"/>
<text x="627.6" y="446.7" font-family='"Liberation Sans", sans-serif' font-size="9.8" fill="#333" textLength="73.2" lengthAdjust="spacingAndGlyphs">Full time drug</text>
</svg>
</body></html>
